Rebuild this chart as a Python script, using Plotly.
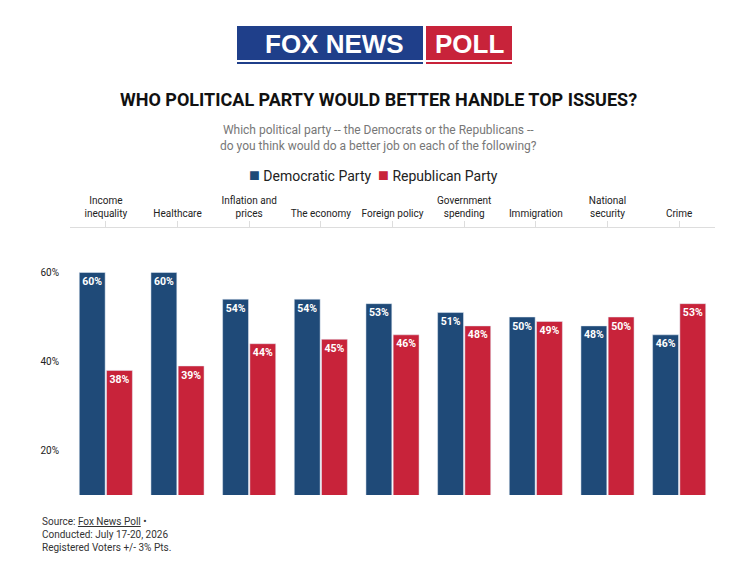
import plotly.graph_objects as go

categories = ["Income<br>inequality", "Healthcare", "Inflation and<br>prices", "The economy",
              "Foreign policy", "Government<br>spending", "Immigration", "National<br>security", "Crime"]
dem = [60, 60, 54, 54, 53, 51, 50, 48, 46]
rep = [38, 39, 44, 45, 46, 48, 49, 50, 53]
yticks = [20, 40, 60]

BLUE = "#1f4a78"
RED = "#c8233a"
W, H = 743, 573
OFF = 8  # page offset in the screenshot
ML, MR, MT, MB = 70 - OFF, 28 + OFF, 228 - OFF, 78 + OFF
PW, PH = W - ML - MR, H - MT - MB

def px(x):
    return (x - OFF - ML) / PW

def py(y):
    return (H - MB - (y - OFF)) / PH

fig = go.Figure()
for name, vals, col in [("Democratic Party", dem, BLUE), ("Republican Party", rep, RED)]:
    fig.add_bar(x=categories, y=vals, name=name, marker_color=col,
                text=[f"<b>{v}%</b>" for v in vals], textposition="inside",
                insidetextanchor="end", textangle=0,
                textfont=dict(color="white", size=11, family="Roboto"))

fig.update_layout(
    width=W, height=H, plot_bgcolor="white", paper_bgcolor="white",
    margin=dict(l=ML, r=MR, t=MT, b=MB),
    barmode="group", bargap=0.24, bargroupgap=0.05,
    font=dict(family="Roboto", color="#333"),
    showlegend=False,
    xaxis=dict(side="top", showline=True, linecolor="#dddddd", ticks="outside",
               tickcolor="#dddddd", ticklen=6, tickfont=dict(size=10, color="#222")),
    yaxis=dict(range=[10, 70], tickvals=yticks, ticktext=[f"{v}%" for v in yticks],
               showgrid=False, zeroline=False,
               tickfont=dict(size=10, color="#222"), ticklabelstandoff=10),
)

# Logo
fig.add_shape(type="rect", xref="paper", yref="paper", x0=px(237), x1=px(423),
              y0=py(60), y1=py(26), fillcolor="#1f3f8a", line_width=0)
fig.add_shape(type="rect", xref="paper", yref="paper", x0=px(426), x1=px(512),
              y0=py(60), y1=py(26), fillcolor="#c8233a", line_width=0)
fig.add_shape(type="line", xref="paper", yref="paper", x0=px(237), x1=px(423),
              y0=py(63), y1=py(63), line=dict(color="#1f3f8a", width=2))
fig.add_shape(type="line", xref="paper", yref="paper", x0=px(426), x1=px(512),
              y0=py(63), y1=py(63), line=dict(color="#c8233a", width=2))

def ann(text, y, size, color="#222", x=378, anchor="center", family="Roboto"):
    fig.add_annotation(xref="paper", yref="paper", x=px(x), y=py(y),
                       text=text, showarrow=False, xanchor=anchor, yanchor="middle",
                       align="left" if anchor == "left" else "center",
                       font=dict(size=size, color=color, family=family))

ann("<b>FOX NEWS</b>", 44, 26, "white", x=334, family="Liberation Sans")
ann("<b>POLL</b>", 44, 26, "white", x=469, family="Liberation Sans")
ann("<b>WHO POLITICAL PARTY WOULD BETTER HANDLE TOP ISSUES?</b>", 100, 18, "#111")
ann("Which political party -- the Democrats or the Republicans --<br>do you think would do a better job on each of the following?",
    138, 12, "#777")
ann('<span style="color:#1f4a78;font-size:18px">■</span> Democratic Party  <span style="color:#c8233a;font-size:18px">■</span> Republican Party',
    174, 14, "#222", x=373)
ann('Source: <u>Fox News Poll</u> •<br>Conducted: July 17-20, 2026<br>Registered Voters +/- 3% Pts.',
    534, 10, "#333", x=40, anchor="left")

fig.write_html("out.html")
